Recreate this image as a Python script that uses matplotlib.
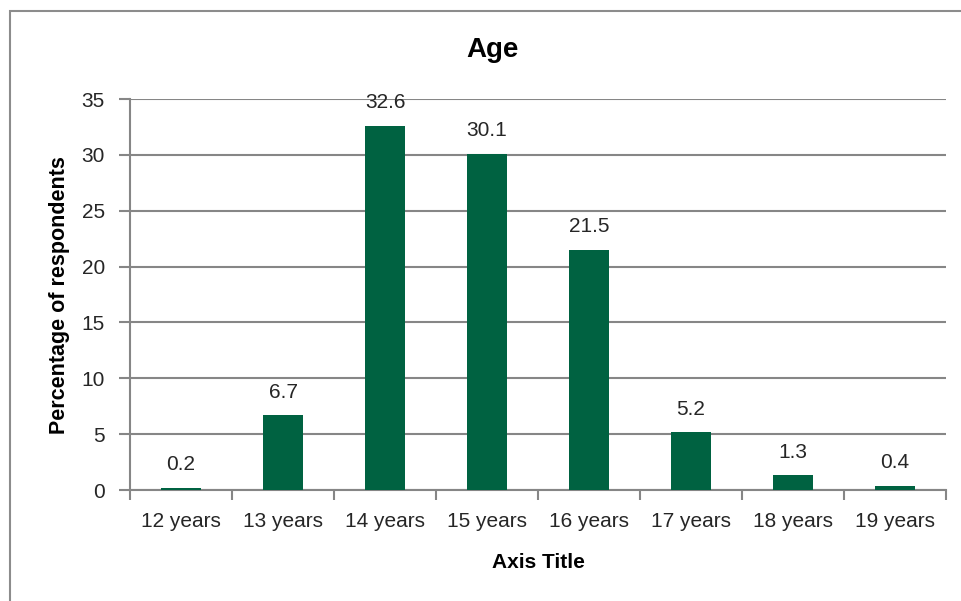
import matplotlib
matplotlib.use("Agg")
import matplotlib.pyplot as plt
from matplotlib.patches import Rectangle

categories = ["12 years", "13 years", "14 years", "15 years",
              "16 years", "17 years", "18 years", "19 years"]
values = [0.2, 6.7, 32.6, 30.1, 21.5, 5.2, 1.3, 0.4]
yticks = [0, 5, 10, 15, 20, 25, 30, 35]

plt.rcParams["font.family"] = ["Liberation Sans", "DejaVu Sans"]
text_color = "#262626"
grid_color = "#868686"
bar_color = "#006241"

fig = plt.figure(figsize=(9.62, 6.01), dpi=100)
fig.patches.append(Rectangle((9.5 / 962, -0.05), 1.2, 1.0 - 11.5 / 601 + 0.05,
                             transform=fig.transFigure, fill=False,
                             edgecolor="#8c8c8c", linewidth=1.5))

ax = fig.add_axes([130 / 962, (601 - 490) / 601, (946 - 130) / 962, (490 - 99) / 601])
x = list(range(len(categories)))
bars = ax.bar(x, values, width=0.4, color=bar_color, zorder=3)

for xi, v in zip(x, values):
    ax.text(xi, v + 1.2, f"{v}", ha="center", va="bottom",
            fontsize=15, color=text_color, zorder=4)

ax.set_xlim(-0.5, len(categories) - 0.5)
ax.set_ylim(0, 35)
ax.set_yticks(yticks)
ax.set_yticklabels([str(t) for t in yticks], fontsize=15, color=text_color)
ax.set_xticks(x)
ax.set_xticklabels(categories, fontsize=15, color=text_color)
ax.set_xticks([i - 0.5 for i in range(len(categories) + 1)], minor=True)

ax.tick_params(axis="x", which="major", length=0, pad=16)
ax.tick_params(axis="x", which="minor", length=7, width=1.5, color=grid_color, direction="out")
ax.tick_params(axis="y", length=8, width=1.5, color=grid_color, direction="out", pad=10)

ax.yaxis.grid(True, color=grid_color, linewidth=1.5, zorder=0)
ax.set_axisbelow(True)
for side in ("top", "right"):
    ax.spines[side].set_visible(False)
for side in ("left", "bottom"):
    ax.spines[side].set_color(grid_color)
    ax.spines[side].set_linewidth(1.5)

fig.text(493 / 962, 1 - 50 / 601, "Age", fontsize=20, fontweight="bold",
         color="black", ha="center", va="center")
fig.text(60 / 962, 1 - 295 / 601, "Percentage of respondents", fontsize=15.5,
         fontweight="bold", color="black", ha="center", va="center", rotation=90)
fig.text(538 / 962, 1 - 562 / 601, "Axis Title", fontsize=15, fontweight="bold",
         color="black", ha="center", va="center")

fig.savefig("out.png", dpi=100)
